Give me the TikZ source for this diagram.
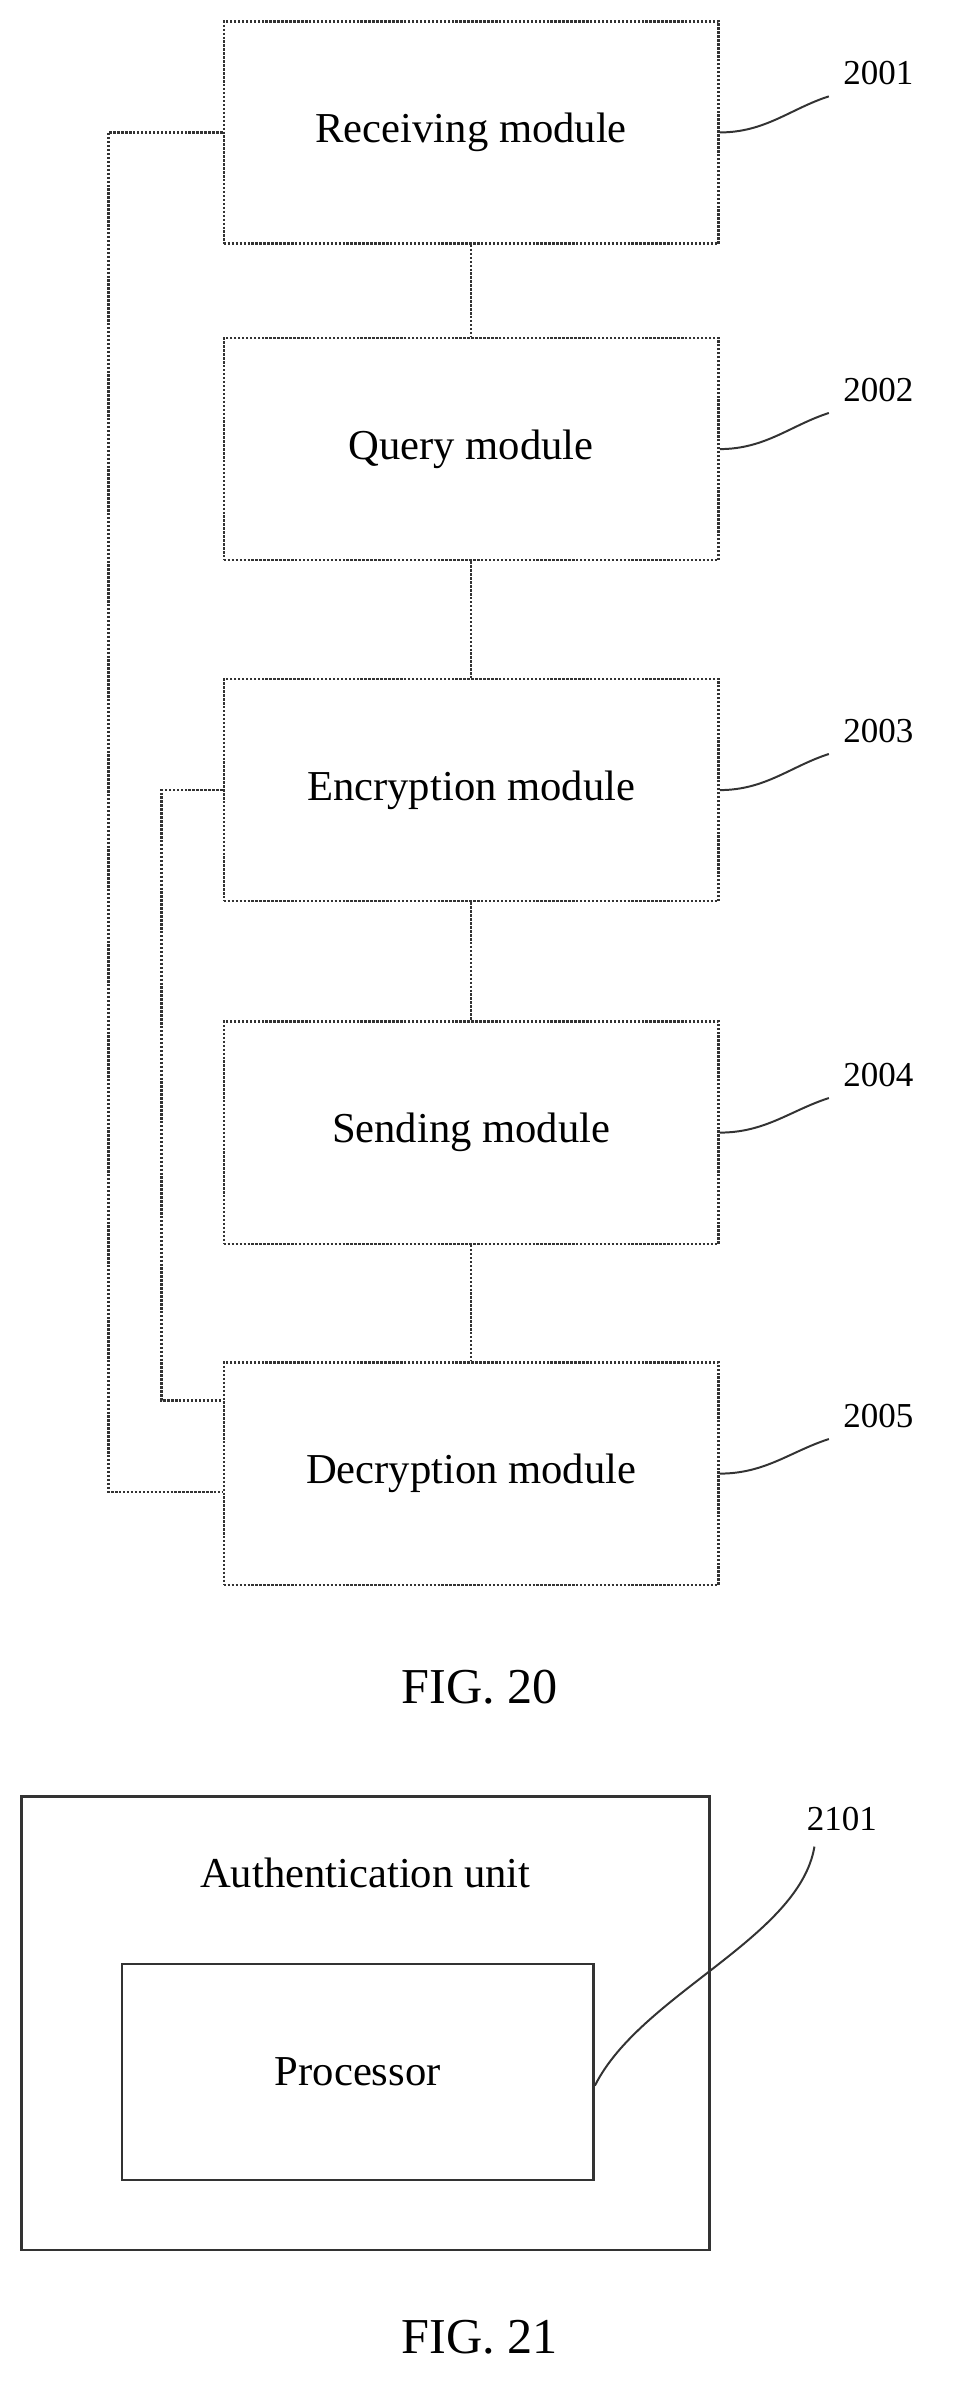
\documentclass[tikz,border=0pt]{standalone}
\usepackage{fontspec}
\setmainfont{Liberation Serif}
\begin{document}
\begin{tikzpicture}[x=1pt,y=-1pt,
    module/.style={draw=black!80,densely dotted,line width=1.6pt,minimum width=325pt,minimum height=146pt,font=\fontsize{28}{33}\selectfont},
    link/.style={draw=black!80,densely dotted,line width=1.6pt},
    leader/.style={draw=black!80,line width=1.3pt},
    ref/.style={font=\fontsize{23}{27}\selectfont},
    caption/.style={font=\fontsize{33}{39}\selectfont},
    ]
  \useasboundingbox (0,0) rectangle (640,1568);

  \node[module] (recv) at (309.5,87) {Receiving module};
  \node[module] (query) at (309.5,295) {Query module};
  \node[module] (encr) at (309.5,519) {Encryption module};
  \node[module] (send) at (309.5,744) {Sending module};
  \node[module] (decr) at (309.5,968) {Decryption module};

  \node[ref] (r1) at (577,48) {2001};
  \node[ref] (r2) at (577,256) {2002};
  \node[ref] (r3) at (577,480) {2003};
  \node[ref] (r4) at (577,706) {2004};
  \node[ref] (r5) at (577,930) {2005};

  \draw[link] (recv) -- (query);
  \draw[link] (query) -- (encr);
  \draw[link] (encr) -- (send);
  \draw[link] (send) -- (decr);
  \draw[link] (recv.west) -- ++(-75,0) |- ([yshift=-12pt]decr.west);
  \draw[link] (encr.west) -- ++(-40,0) |- ([yshift=48pt]decr.west);

  \foreach \m/\r in {recv/r1,query/r2,encr/r3,send/r4,decr/r5}
    \draw[leader] (\m.east) .. controls +(30,0) and +(-25,8) .. ([xshift=-6pt,yshift=-4pt]\r.south west);

  \node[caption] (fig20) at (315,1108) {FIG. 20};

  % second figure
  \node[draw=black!80,line width=1.6pt,minimum width=452pt,minimum height=298pt] (unit) at (240,1329) {};
  \node[font=\fontsize{28}{33}\selectfont] (unitlbl) at (240,1230) {Authentication unit};
  \node[draw=black!80,line width=1.6pt,minimum width=310pt,minimum height=142pt,font=\fontsize{28}{33}\selectfont] (proc) at (235,1361) {Processor};
  \node[ref] (r6) at (553,1195) {2101};
  \draw[leader] ([yshift=-9pt]proc.east) .. controls +(30,-60) and +(-10,60) .. (535,1213);

  \node[caption] (fig21) at (315,1535) {FIG. 21};
\end{tikzpicture}
\end{document}
